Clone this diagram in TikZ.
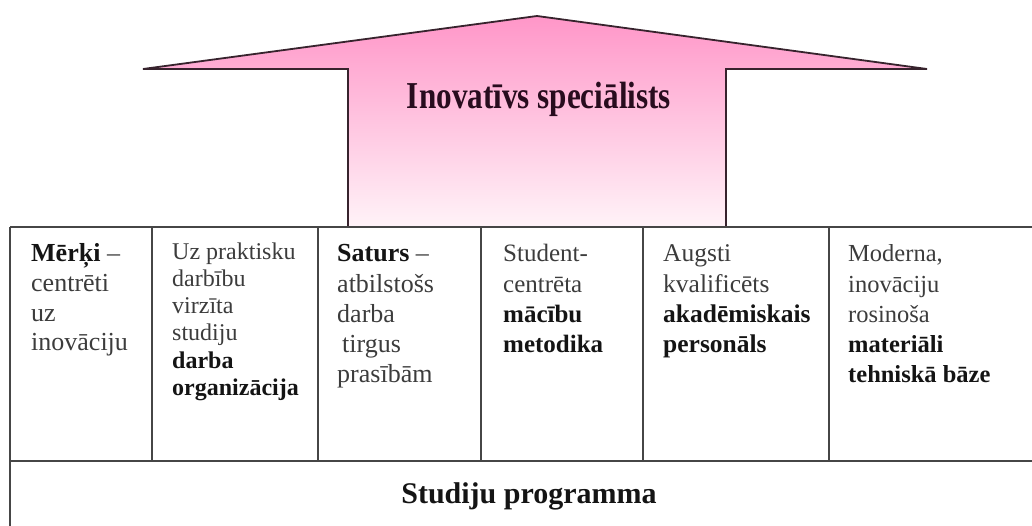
\documentclass[tikz,border=0pt]{standalone}
\usepackage{fontspec}
\setmainfont{Liberation Serif}
\usetikzlibrary{calc}

\definecolor{arrowtop}{RGB}{255,150,200}
\definecolor{arrowbot}{RGB}{255,243,248}
\definecolor{arrowline}{RGB}{55,35,45}
\definecolor{gridline}{RGB}{70,70,70}
\definecolor{plaintext}{RGB}{60,60,60}
\definecolor{strongtext}{RGB}{20,20,20}
\definecolor{titletext}{RGB}{40,12,30}

\newcommand{\hl}[1]{{\color{strongtext}\bfseries #1}}

\tikzset{
  gridrule/.style={draw=gridline, line width=1.6pt},
  arrowedge/.style={draw=arrowline, line width=1.8pt, line join=miter},
  celltext/.style={anchor=base west, inner sep=0pt, text=plaintext},
}

\begin{document}
\begin{tikzpicture}[x=1pt, y=-1pt]
  \useasboundingbox (0,0) rectangle (1032,526);

  % corner points of the big upward arrow
  \coordinate (wingL) at (143,69);
  \coordinate (tip)   at (537,16);
  \coordinate (wingR) at (927,69);
  \coordinate (neckR) at (726,69);
  \coordinate (footR) at (726,227);
  \coordinate (footL) at (348,227);
  \coordinate (neckL) at (348,69);

  \shade[top color=arrowtop, bottom color=arrowbot]
    (wingL) -- (tip) -- (wingR) -- (neckR) -- (footR) -- (footL) -- (neckL) -- cycle;
  \draw[arrowedge] (footL) -- (neckL) -- (wingL) -- (tip) -- (wingR) -- (neckR) -- (footR);

  \node[inner sep=0pt, anchor=base, text=titletext] (goal) at (539,109)
    {\scalebox{0.82}[1]{\fontsize{38}{42}\selectfont\bfseries Inovatīvs speciālists}};

  % table frame
  \coordinate (tl) at (10,227);
  \coordinate (tr) at (1032,227);
  \coordinate (ml) at (10,461);
  \coordinate (mr) at (1032,461);
  \coordinate (bl) at (10,526);
  \draw[gridrule] (tl) -- (tr);
  \draw[gridrule] (ml) -- (mr);
  \draw[gridrule] (tl) -- (bl);
  \foreach \x/\n in {152/a,318/b,481/c,643/d,829/e}{
    \coordinate (top\n) at (\x,227);
    \coordinate (bot\n) at (\x,461);
    \draw[gridrule] (top\n) -- (bot\n);
  }

  % column texts
  \node[celltext] (c1) at (31,262) {\fontsize{26}{29.5}\selectfont
    \begin{tabular}[t]{@{}l@{}}\hl{Mērķi} –\\centrēti\\uz\\inovāciju\end{tabular}};
  \node[celltext] (c2) at (172,260) {\fontsize{24}{27}\selectfont
    \begin{tabular}[t]{@{}l@{}}Uz praktisku\\darbību\\virzīta\\studiju\\\hl{darba}\\\hl{organizācija}\end{tabular}};
  \node[celltext] (c3) at (337,262) {\fontsize{26}{30}\selectfont
    \begin{tabular}[t]{@{}l@{}}\hl{Saturs} –\\atbilstošs\\darba\\\hspace{5pt}tirgus\\prasībām\end{tabular}};
  \node[celltext] (c4) at (503,262) {\fontsize{25}{30}\selectfont
    \begin{tabular}[t]{@{}l@{}}Student-\\centrēta\\\hl{mācību}\\\hl{metodika}\end{tabular}};
  \node[celltext] (c5) at (663,262) {\fontsize{25.5}{30}\selectfont
    \begin{tabular}[t]{@{}l@{}}Augsti\\kvalificēts\\\hl{akadēmiskais}\\\hl{personāls}\end{tabular}};
  \node[celltext] (c6) at (848,262) {\fontsize{24.5}{30}\selectfont
    \begin{tabular}[t]{@{}l@{}}Moderna,\\inovāciju\\rosinoša\\\hl{materiāli}\\\hl{tehniskā bāze}\end{tabular}};

  \node[inner sep=0pt, anchor=base, text=strongtext] (base) at (529,503)
    {\fontsize{30}{34}\selectfont\bfseries Studiju programma};
\end{tikzpicture}
\end{document}
